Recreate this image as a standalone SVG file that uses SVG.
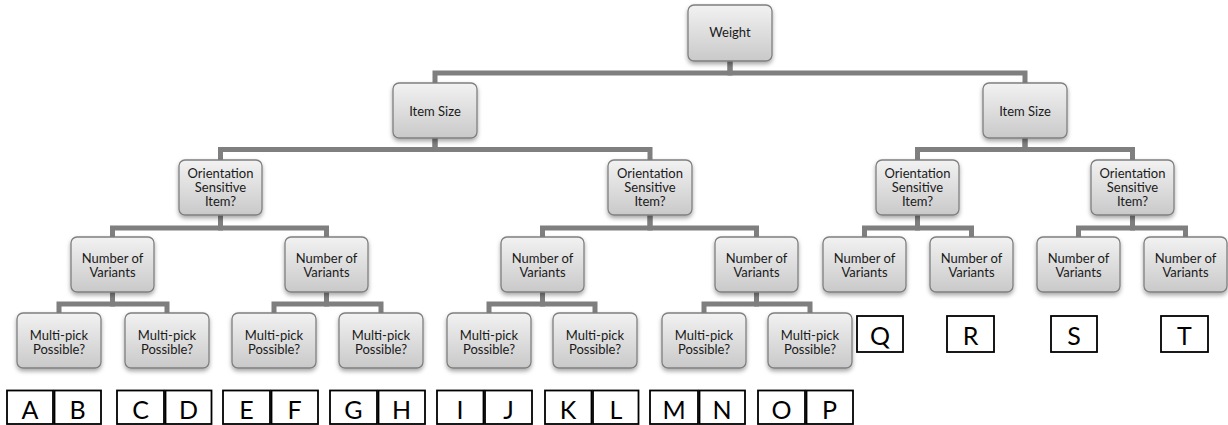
<svg xmlns="http://www.w3.org/2000/svg" width="1228" height="425" viewBox="0 0 1228 425">
  <defs>
    <linearGradient id="nodeGrad" x1="0" y1="0" x2="0" y2="1">
      <stop offset="0" stop-color="#f2f2f2"/>
      <stop offset="1" stop-color="#c9c9c9"/>
    </linearGradient>
    <filter id="shadow" x="-20%" y="-20%" width="140%" height="150%">
      <feDropShadow dx="0" dy="2.5" stdDeviation="2" flood-color="#000" flood-opacity="0.35"/>
    </filter>
  </defs>
  <style>
    .node rect { fill: url(#nodeGrad); stroke: #7f7f7f; stroke-width: 1.3; filter: url(#shadow); }
    .node text { font-family: Lato, "Liberation Sans", sans-serif; font-size: 13px; fill: #1a1a1a; text-anchor: middle; }
    .conn path { fill: none; stroke: #7f7f7f; stroke-width: 5; stroke-linejoin: miter; stroke-linecap: butt; }
    .box rect { fill: #ffffff; stroke: #000000; stroke-width: 1.8; }
    .box text { font-family: Lato, "Liberation Sans", sans-serif; font-size: 25px; fill: #000; text-anchor: middle; }
  </style>
  <rect width="1228" height="425" fill="#ffffff"/>

  <g id="connectors" class="conn">
    <path d="M730 61 V73 H435 V83"/>
    <path d="M730 61 V73 H1025 V83"/>
    <path d="M435 138 V149.5 H220.5 V160"/>
    <path d="M435 138 V149.5 H650 V160"/>
    <path d="M1025 138 V149.5 H917.5 V160"/>
    <path d="M1025 138 V149.5 H1132.5 V160"/>
    <path d="M220.5 215 V228 H112.5 V237"/>
    <path d="M220.5 215 V228 H326.5 V237"/>
    <path d="M650 215 V228 H542.5 V237"/>
    <path d="M650 215 V228 H756.5 V237"/>
    <path d="M917.5 215 V228 H864.5 V237"/>
    <path d="M917.5 215 V228 H971.5 V237"/>
    <path d="M1132.5 215 V228 H1078.5 V237"/>
    <path d="M1132.5 215 V228 H1185.5 V237"/>
    <path d="M112.5 292 V304 H59 V313"/>
    <path d="M112.5 292 V304 H167 V313"/>
    <path d="M326.5 292 V304 H274 V313"/>
    <path d="M326.5 292 V304 H381 V313"/>
    <path d="M542.5 292 V304 H489 V313"/>
    <path d="M542.5 292 V304 H595 V313"/>
    <path d="M756.5 292 V304 H704 V313"/>
    <path d="M756.5 292 V304 H810 V313"/>
  </g>

  <g id="n-weight" class="node"><rect x="688" y="5" width="84" height="56" rx="6"/><text x="730" y="37">Weight</text></g>
  <g id="n-size-l" class="node"><rect x="393" y="83" width="84" height="55" rx="6"/><text x="435" y="115.5">Item Size</text></g>
  <g id="n-size-r" class="node"><rect x="983" y="83" width="84" height="55" rx="6"/><text x="1025" y="115.5">Item Size</text></g>

  <g id="n-orient-1" class="node"><rect x="179" y="160" width="83" height="55" rx="6"/><text x="220.5" y="177.5">Orientation</text><text x="220.5" y="191.5">Sensitive</text><text x="220.5" y="205.5">Item?</text></g>
  <g id="n-orient-2" class="node"><rect x="608" y="160" width="84" height="55" rx="6"/><text x="650" y="177.5">Orientation</text><text x="650" y="191.5">Sensitive</text><text x="650" y="205.5">Item?</text></g>
  <g id="n-orient-3" class="node"><rect x="876" y="160" width="83" height="55" rx="6"/><text x="917.5" y="177.5">Orientation</text><text x="917.5" y="191.5">Sensitive</text><text x="917.5" y="205.5">Item?</text></g>
  <g id="n-orient-4" class="node"><rect x="1091" y="160" width="83" height="55" rx="6"/><text x="1132.5" y="177.5">Orientation</text><text x="1132.5" y="191.5">Sensitive</text><text x="1132.5" y="205.5">Item?</text></g>

  <g id="n-var-1" class="node"><rect x="71" y="237" width="83" height="55" rx="6"/><text x="112.5" y="263">Number of</text><text x="112.5" y="277">Variants</text></g>
  <g id="n-var-2" class="node"><rect x="285" y="237" width="83" height="55" rx="6"/><text x="326.5" y="263">Number of</text><text x="326.5" y="277">Variants</text></g>
  <g id="n-var-3" class="node"><rect x="501" y="237" width="83" height="55" rx="6"/><text x="542.5" y="263">Number of</text><text x="542.5" y="277">Variants</text></g>
  <g id="n-var-4" class="node"><rect x="715" y="237" width="83" height="55" rx="6"/><text x="756.5" y="263">Number of</text><text x="756.5" y="277">Variants</text></g>
  <g id="n-var-5" class="node"><rect x="823" y="237" width="83" height="55" rx="6"/><text x="864.5" y="263">Number of</text><text x="864.5" y="277">Variants</text></g>
  <g id="n-var-6" class="node"><rect x="930" y="237" width="83" height="55" rx="6"/><text x="971.5" y="263">Number of</text><text x="971.5" y="277">Variants</text></g>
  <g id="n-var-7" class="node"><rect x="1037" y="237" width="83" height="55" rx="6"/><text x="1078.5" y="263">Number of</text><text x="1078.5" y="277">Variants</text></g>
  <g id="n-var-8" class="node"><rect x="1144" y="237" width="83" height="55" rx="6"/><text x="1185.5" y="263">Number of</text><text x="1185.5" y="277">Variants</text></g>

  <g id="n-multi-1" class="node"><rect x="17" y="313" width="84" height="55" rx="6"/><text x="59" y="339.5">Multi-pick</text><text x="59" y="353.5">Possible?</text></g>
  <g id="n-multi-2" class="node"><rect x="125" y="313" width="84" height="55" rx="6"/><text x="167" y="339.5">Multi-pick</text><text x="167" y="353.5">Possible?</text></g>
  <g id="n-multi-3" class="node"><rect x="232" y="313" width="84" height="55" rx="6"/><text x="274" y="339.5">Multi-pick</text><text x="274" y="353.5">Possible?</text></g>
  <g id="n-multi-4" class="node"><rect x="339" y="313" width="84" height="55" rx="6"/><text x="381" y="339.5">Multi-pick</text><text x="381" y="353.5">Possible?</text></g>
  <g id="n-multi-5" class="node"><rect x="447" y="313" width="84" height="55" rx="6"/><text x="489" y="339.5">Multi-pick</text><text x="489" y="353.5">Possible?</text></g>
  <g id="n-multi-6" class="node"><rect x="553" y="313" width="84" height="55" rx="6"/><text x="595" y="339.5">Multi-pick</text><text x="595" y="353.5">Possible?</text></g>
  <g id="n-multi-7" class="node"><rect x="662" y="313" width="84" height="55" rx="6"/><text x="704" y="339.5">Multi-pick</text><text x="704" y="353.5">Possible?</text></g>
  <g id="n-multi-8" class="node"><rect x="768" y="313" width="84" height="55" rx="6"/><text x="810" y="339.5">Multi-pick</text><text x="810" y="353.5">Possible?</text></g>

  <g id="b-A" class="box"><rect x="7" y="390.5" width="46" height="33.5"/><text x="30" y="419">A</text></g>
  <g id="b-B" class="box"><rect x="54.5" y="390.5" width="46.5" height="33.5"/><text x="77.5" y="419">B</text></g>
  <g id="b-C" class="box"><rect x="117" y="390.5" width="47" height="33.5"/><text x="140.5" y="419">C</text></g>
  <g id="b-D" class="box"><rect x="165.5" y="390.5" width="46" height="33.5"/><text x="188.5" y="419">D</text></g>
  <g id="b-E" class="box"><rect x="223" y="390.5" width="47" height="33.5"/><text x="246.5" y="419">E</text></g>
  <g id="b-F" class="box"><rect x="271.5" y="390.5" width="46.5" height="33.5"/><text x="294.5" y="419">F</text></g>
  <g id="b-G" class="box"><rect x="330" y="390.5" width="47" height="33.5"/><text x="353.5" y="419">G</text></g>
  <g id="b-H" class="box"><rect x="378.5" y="390.5" width="46.5" height="33.5"/><text x="401.5" y="419">H</text></g>
  <g id="b-I" class="box"><rect x="437" y="390.5" width="46.5" height="33.5"/><text x="460" y="419">I</text></g>
  <g id="b-J" class="box"><rect x="485" y="390.5" width="47" height="33.5"/><text x="508.5" y="419">J</text></g>
  <g id="b-K" class="box"><rect x="545" y="390.5" width="46.5" height="33.5"/><text x="568" y="419">K</text></g>
  <g id="b-L" class="box"><rect x="593" y="390.5" width="45.5" height="33.5"/><text x="616" y="419">L</text></g>
  <g id="b-M" class="box"><rect x="650" y="390.5" width="48" height="33.5"/><text x="674" y="419">M</text></g>
  <g id="b-N" class="box"><rect x="699.5" y="390.5" width="45.5" height="33.5"/><text x="722" y="419">N</text></g>
  <g id="b-O" class="box"><rect x="758" y="390.5" width="47" height="33.5"/><text x="781.5" y="419">O</text></g>
  <g id="b-P" class="box"><rect x="806.5" y="390.5" width="46.5" height="33.5"/><text x="829.5" y="419">P</text></g>

  <g id="b-Q" class="box"><rect x="857" y="316" width="46" height="36"/><text x="880" y="345">Q</text></g>
  <g id="b-R" class="box"><rect x="947" y="316" width="47" height="36"/><text x="970.5" y="345">R</text></g>
  <g id="b-S" class="box"><rect x="1051" y="316" width="46" height="36"/><text x="1074" y="345">S</text></g>
  <g id="b-T" class="box"><rect x="1161" y="316" width="47" height="36"/><text x="1184.5" y="345">T</text></g>
</svg>
